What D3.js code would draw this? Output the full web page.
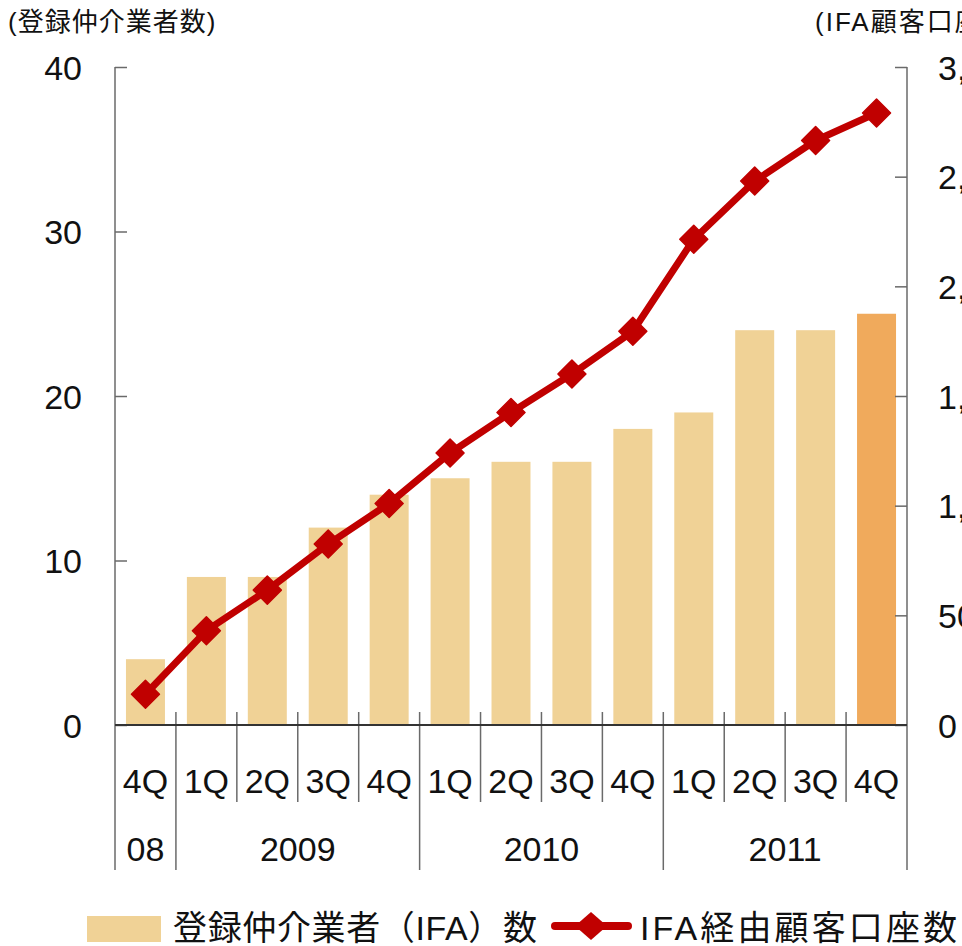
<!DOCTYPE html>
<html>
<head>
<meta charset="utf-8">
<script src="https://cdn.jsdelivr.net/npm/d3@7"></script>
<style>
  html, body { margin: 0; padding: 0; background: #fff; }
  svg { display: block; }
  text { font-family: "Liberation Sans", Arial, "Noto Sans CJK JP", sans-serif; fill: #111; }
</style>
</head>
<body>
<svg id="chart" width="962" height="946"></svg>
<script>
// Quarterly categories (4Q 2008 – 4Q 2011)
const quarters = ["4Q", "1Q", "2Q", "3Q", "4Q", "1Q", "2Q", "3Q", "4Q", "1Q", "2Q", "3Q", "4Q"];
// Year groups: label, first quarter index, number of quarters
const yearLabels = ["08", "2009", "2010", "2011"];
const yearStart = [0, 1, 5, 9];
const yearSpan = [1, 4, 4, 4];
// Registered intermediaries (IFA), left axis
const ifaCount = [4, 9, 9, 12, 14, 15, 16, 16, 18, 19, 24, 24, 25];
// Client accounts via IFA, right axis
const ifaAccounts = [140, 430, 615, 825, 1010, 1240, 1425, 1600, 1795, 2215, 2480, 2665, 2790];
// Axis ticks
const leftTicks = [0, 10, 20, 30, 40];
const rightTicks = [0, 500, 1000, 1500, 2000, 2500, 3000];

const svg = d3.select("#chart");
const plotLeft = 115, plotRight = 907, plotTop = 67, plotBottom = 725;

const x = d3.scaleBand().domain(d3.range(quarters.length))
  .range([plotLeft, plotRight]).paddingInner(0.36).paddingOuter(0.18);
const step = x.step();
const yL = d3.scaleLinear().domain([0, 40]).range([plotBottom, plotTop]);
const yR = d3.scaleLinear().domain([0, 3000]).range([plotBottom, plotTop]);

const axisColor = "#6a6a6a";

// Bars
svg.append("g").selectAll("rect").data(ifaCount).join("rect")
  .attr("x", (d, i) => x(i))
  .attr("y", d => yL(d))
  .attr("width", x.bandwidth())
  .attr("height", d => yL(0) - yL(d))
  .attr("fill", (d, i) => i === ifaCount.length - 1 ? "#F0AA5C" : "#F0D296");

// Left axis: ticks pointing inward
const gL = svg.append("g").attr("transform", `translate(${plotLeft},0)`)
  .call(d3.axisRight(yL).tickValues(leftTicks).tickSize(12).tickFormat(""));
gL.select(".domain").remove();
gL.selectAll("line").attr("stroke", axisColor).attr("stroke-width", 1.5);
svg.append("g").selectAll("text").data(leftTicks).join("text")
  .attr("x", 82).attr("y", d => yL(d) + 12.5)
  .attr("text-anchor", "end").attr("font-size", 34).text(d => d);

// Right axis: ticks pointing inward, labels to the right (run past the page edge)
const gR = svg.append("g").attr("transform", `translate(${plotRight},0)`)
  .call(d3.axisLeft(yR).tickValues(rightTicks).tickSize(12).tickFormat(""));
gR.select(".domain").remove();
gR.selectAll("line").attr("stroke", axisColor).attr("stroke-width", 1.5);
svg.append("g").selectAll("text").data(rightTicks).join("text")
  .attr("x", 938).attr("y", d => yR(d) + 12.5)
  .attr("text-anchor", "start").attr("font-size", 34).text(d => d3.format(",")(d));

// Vertical axis lines extend down through the category table
const boundaries = d3.range(quarters.length + 1);
const yearBounds = yearStart.concat([quarters.length]);
svg.append("line").attr("x1", plotLeft).attr("x2", plotLeft).attr("y1", plotTop).attr("y2", 870)
  .attr("stroke", axisColor).attr("stroke-width", 1.5);
svg.append("line").attr("x1", plotRight).attr("x2", plotRight).attr("y1", plotTop).attr("y2", 870)
  .attr("stroke", axisColor).attr("stroke-width", 1.5);

// Category separators: short for quarters, long at year boundaries
svg.append("g").selectAll("line").data(boundaries.filter(b => b > 0 && b < quarters.length)).join("line")
  .attr("x1", b => plotLeft + b * step).attr("x2", b => plotLeft + b * step)
  .attr("y1", 712)
  .attr("y2", b => yearBounds.includes(b) ? 870 : 802)
  .attr("stroke", axisColor).attr("stroke-width", 1.5);

// Baseline
svg.append("line").attr("x1", plotLeft).attr("x2", plotRight).attr("y1", plotBottom).attr("y2", plotBottom)
  .attr("stroke", "#333").attr("stroke-width", 2);

// Quarter labels
svg.append("g").selectAll("text").data(quarters).join("text")
  .attr("x", (d, i) => x(i) + x.bandwidth() / 2).attr("y", 793)
  .attr("text-anchor", "middle").attr("font-size", 34).text(d => d);

// Year labels
svg.append("g").selectAll("text").data(yearLabels).join("text")
  .attr("x", (d, i) => plotLeft + (yearStart[i] + yearSpan[i] / 2) * step).attr("y", 861)
  .attr("text-anchor", "middle").attr("font-size", 34).text(d => d);

// Accounts line with diamond markers
const lineColor = "#C00000";
const cx = i => x(i) + x.bandwidth() / 2;
svg.append("path").datum(ifaAccounts)
  .attr("d", d3.line().x((d, i) => cx(i)).y(d => yR(d)))
  .attr("fill", "none").attr("stroke", lineColor).attr("stroke-width", 7)
  .attr("stroke-linejoin", "round");
const diamond = (r) => `M0,${-r}L${r},0L0,${r}L${-r},0Z`;
svg.append("g").selectAll("path").data(ifaAccounts).join("path")
  .attr("transform", (d, i) => `translate(${cx(i)},${yR(d)})`)
  .attr("d", diamond(14)).attr("fill", lineColor)
  .attr("stroke", lineColor).attr("stroke-width", 1.5).attr("stroke-linejoin", "round");

// Axis titles
svg.append("text").attr("x", 8).attr("y", 31).attr("font-size", 26)
  .attr("letter-spacing", 1).text("(登録仲介業者数)");
svg.append("text").attr("x", 815).attr("y", 31).attr("font-size", 26)
  .attr("letter-spacing", 2).text("(IFA顧客口座数)");

// Legend
svg.append("rect").attr("x", 87).attr("y", 916).attr("width", 74).attr("height", 26).attr("fill", "#F0D296");
svg.append("text").attr("x", 173).attr("y", 940).attr("font-size", 34)
  .attr("textLength", 364).attr("lengthAdjust", "spacing").text("登録仲介業者（IFA）数");
svg.append("line").attr("x1", 555).attr("x2", 628).attr("y1", 926).attr("y2", 926)
  .attr("stroke", lineColor).attr("stroke-width", 8).attr("stroke-linecap", "round");
svg.append("path").attr("transform", "translate(591,926)")
  .attr("d", "M0,-14L16,0L0,14L-16,0Z").attr("fill", lineColor);
svg.append("text").attr("x", 640).attr("y", 940).attr("font-size", 34)
  .attr("textLength", 317).attr("lengthAdjust", "spacing").text("IFA経由顧客口座数");
</script>
</body>
</html>
